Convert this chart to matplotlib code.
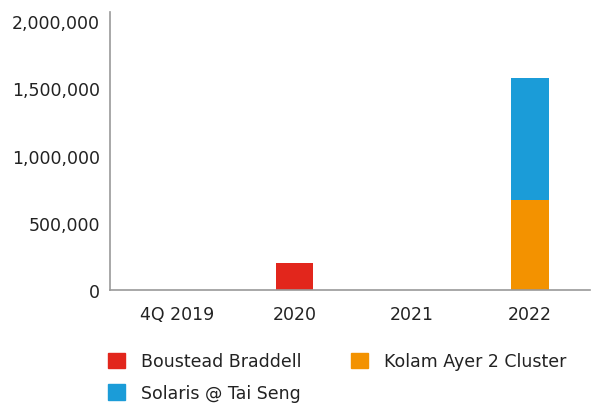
import matplotlib.pyplot as plt
from matplotlib.patches import Patch
from matplotlib.ticker import FuncFormatter
import numpy as np

# 每个时期新增面积（平方英尺）
periods = ["4Q 2019", "2020", "2021", "2022"]
boustead = [0, 200000, 0, 0]
kolam = [0, 0, 0, 670000]
solaris = [0, 0, 0, 905000]

c_red = "#E2261C"
c_orange = "#F39200"
c_blue = "#1B9CD8"
txt = "#222222"

plt.rcParams['font.family'] = ['DejaVu Sans']

fig = plt.figure(figsize=(5.94, 4.06), dpi=100)
ax = fig.add_axes([0.185, 0.283, 0.808, 0.685])

x = np.arange(len(periods))
w = 0.32
ax.bar(x, boustead, w, color=c_red)
ax.bar(x, kolam, w, bottom=boustead, color=c_orange)
bottom2 = [a + b for a, b in zip(boustead, kolam)]
ax.bar(x, solaris, w, bottom=bottom2, color=c_blue)

ax.set_xlim(-0.57, 3.51)
ax.set_ylim(0, 2067000)
ax.set_yticks([0, 500000, 1000000, 1500000, 2000000])
ax.yaxis.set_major_formatter(FuncFormatter(lambda v, p: f"{int(v):,}"))
ax.set_xticks(x)
ax.set_xticklabels(periods)

for s in ["top", "right"]:
    ax.spines[s].set_visible(False)
for s in ["left", "bottom"]:
    ax.spines[s].set_color("#999999")
    ax.spines[s].set_linewidth(1.2)
ax.tick_params(axis="both", length=0, labelsize=12.5, colors=txt)
ax.tick_params(axis="y", pad=7)
ax.tick_params(axis="x", pad=11)

handles = [Patch(color=c_red, label="Boustead Braddell"),
           Patch(color=c_blue, label="Solaris @ Tai Seng"),
           Patch(color=c_orange, label="Kolam Ayer 2 Cluster")]
leg = fig.legend(handles=handles, ncol=2, loc="upper left",
                 bbox_to_anchor=(0.155, 0.168), frameon=False,
                 fontsize=12.5, handlelength=1.0, handleheight=1.0,
                 handletextpad=0.9, columnspacing=2.85, labelspacing=0.78)
for t in leg.get_texts():
    t.set_color(txt)

fig.savefig("out.png", dpi=100)
